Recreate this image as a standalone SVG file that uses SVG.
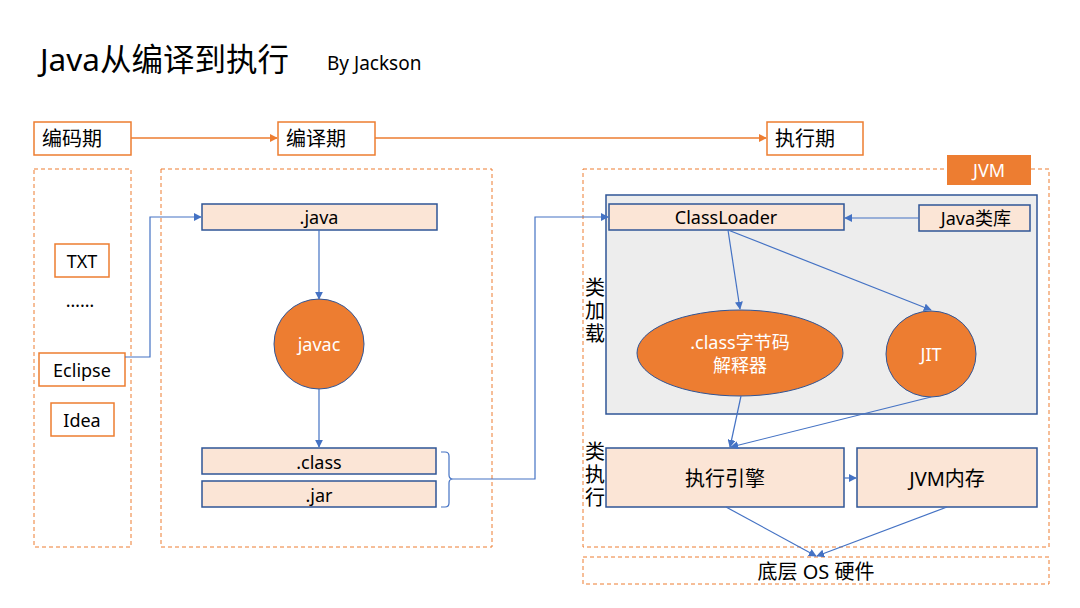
<svg xmlns="http://www.w3.org/2000/svg" width="1080" height="608" viewBox="0 0 1080 608">
<defs>
<style>
text{font-family:"Noto Sans","Noto Sans CJK SC",sans-serif;fill:#000}
.t{font-size:18px;text-anchor:middle;dominant-baseline:central}
.c{font-size:20px}
.v{font-size:20px;writing-mode:vertical-rl;letter-spacing:3px}
.w{fill:#fff}
.ob{fill:#fff;stroke:#ED7D31;stroke-width:1.5}
.dash{fill:none;stroke:#ED7D31;stroke-width:1;stroke-dasharray:4 3}
.pk{fill:#FBE5D6;stroke:#2F5597;stroke-width:1.5}
.oc{fill:#ED7D31;stroke:#2F5597;stroke-width:1}
.bl{fill:none;stroke:#4472C4;stroke-width:1.2;marker-end:url(#ab)}
.ol{fill:none;stroke:#ED7D31;stroke-width:1.5;marker-end:url(#ao)}
</style>
<marker id="ab" viewBox="0 0 10 10" refX="9" refY="5" markerWidth="8" markerHeight="8" markerUnits="userSpaceOnUse" orient="auto"><path d="M0,0L10,5L0,10z" fill="#4472C4"/></marker>
<marker id="ao" viewBox="0 0 10 10" refX="9" refY="5" markerWidth="8" markerHeight="8" markerUnits="userSpaceOnUse" orient="auto"><path d="M0,0L10,5L0,10z" fill="#ED7D31"/></marker>
</defs>
<rect width="1080" height="608" fill="#fff"/>
<g id="title">
<text x="40" y="71" font-size="31.5">Java从编译到执行</text>
<text x="327" y="70" font-size="19">By Jackson</text>
</g>
<g id="containers">
<rect class="dash" x="34" y="169" width="97" height="378"/>
<rect class="dash" x="161" y="169" width="331" height="378"/>
<rect class="dash" x="583" y="169" width="466" height="378"/>
<rect class="dash" x="583" y="557" width="466" height="27"/>
<text class="t c" x="816" y="571">底层 OS 硬件</text>
<rect x="606" y="195" width="431" height="219" fill="#EDEDED" stroke="#2F5597" stroke-width="1.5"/>
</g>
<g id="jvm-label"><rect x="947" y="155" width="84" height="30" fill="#ED7D31"/><text class="t w" x="989" y="170">JVM</text></g>
<g id="phase-code"><rect class="ob" x="34" y="122" width="97" height="33"/><text class="t c" x="72" y="138">编码期</text></g>
<g id="phase-compile"><rect class="ob" x="278" y="122" width="97" height="33"/><text class="t c" x="316" y="138">编译期</text></g>
<g id="phase-run"><rect class="ob" x="767" y="122" width="96" height="33"/><text class="t c" x="805" y="138">执行期</text></g>
<g id="txt"><rect class="ob" x="55" y="244" width="54" height="33"/><text class="t" x="82" y="261">TXT</text></g>
<g id="dots"><text class="t" x="80" y="300">……</text></g>
<g id="eclipse"><rect class="ob" x="39" y="353" width="86" height="33"/><text class="t" x="82" y="370">Eclipse</text></g>
<g id="idea"><rect class="ob" x="51" y="403" width="63" height="33"/><text class="t" x="82" y="420">Idea</text></g>
<g id="java"><rect class="pk" x="202" y="204" width="235" height="26"/><text class="t" x="319" y="217">.java</text></g>
<g id="javac"><circle class="oc" cx="319" cy="344" r="45"/><text class="t w" x="319" y="344">javac</text></g>
<g id="class"><rect class="pk" x="202" y="448" width="234" height="26"/><text class="t" x="319" y="462">.class</text></g>
<g id="jar"><rect class="pk" x="202" y="481" width="234" height="26"/><text class="t" x="319" y="495">.jar</text></g>
<g id="classloader"><rect class="pk" x="609" y="204" width="235" height="26"/><text class="t" x="726" y="217">ClassLoader</text></g>
<g id="javalib"><rect class="pk" x="919" y="205" width="111" height="26"/><text class="t" x="976" y="218" font-size="19">Java类库</text></g>
<g id="interpreter"><ellipse class="oc" cx="740" cy="353" rx="103" ry="43"/><text class="t w" x="740" y="342" font-size="19">.class字节码</text><text class="t w" x="740" y="365" font-size="19">解释器</text></g>
<g id="jit"><ellipse class="oc" cx="931" cy="354" rx="45" ry="43"/><text class="t w" x="931" y="354" font-size="19">JIT</text></g>
<g id="engine"><rect class="pk" x="606" y="448" width="238" height="59"/><text class="t c" x="725" y="478">执行引擎</text></g>
<g id="memory"><rect class="pk" x="857" y="448" width="180" height="59"/><text class="t c" x="947" y="478">JVM内存</text></g>
<g id="side-labels">
<text class="v" x="594" y="277">类加载</text>
<text class="v" x="594" y="441">类执行</text>
</g>
<g id="connectors">
<path class="ol" d="M131,138H277"/>
<path class="ol" d="M375,138H766"/>
<path class="bl" d="M125,357H150V217H201"/>
<path class="bl" d="M319,230V299"/>
<path class="bl" d="M319,389V447"/>
<path d="M441,452H445Q449,452 449,456V475Q449,479 453,479Q449,479 449,483V503Q449,507 445,507H441" fill="none" stroke="#4472C4" stroke-width="1.2"/>
<path class="bl" d="M453,479H535V217H608"/>
<path class="bl" d="M919,218H845"/>
<path class="bl" d="M728,230L740,309"/>
<path class="bl" d="M728,230L931,310"/>
<path class="bl" d="M741,396L730,447"/>
<path class="bl" d="M931,397L731,447"/>
<path class="bl" d="M844,478H856"/>
<path class="bl" d="M726,507L816,556"/>
<path class="bl" d="M947,507L817,556"/>
</g>
</svg>
